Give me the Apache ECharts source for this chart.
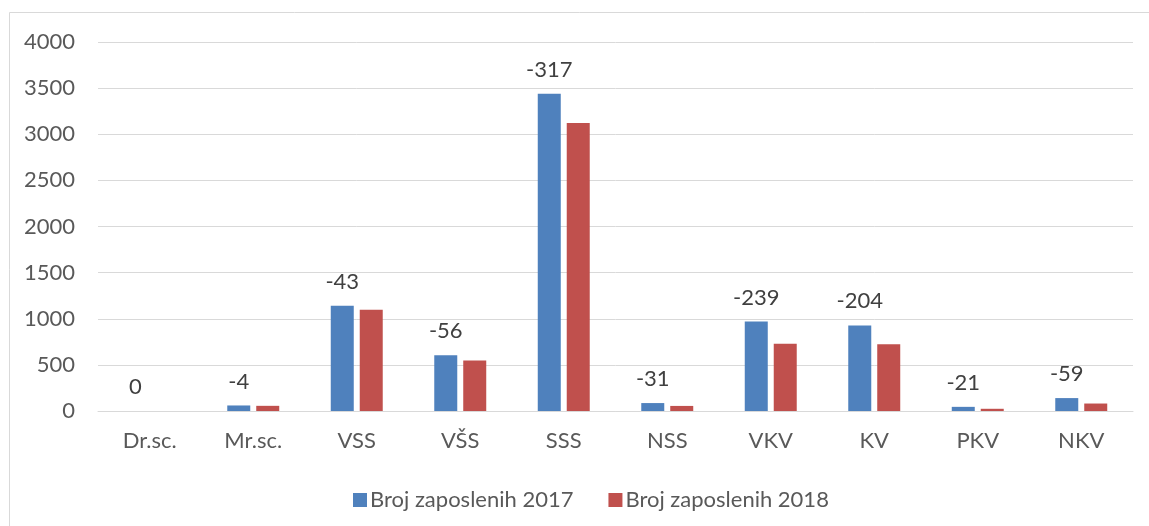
<!DOCTYPE html>
<html>
<head>
<meta charset="utf-8">
<script src="https://cdn.jsdelivr.net/npm/echarts@6/dist/echarts.min.js"></script>
<style>html,body{margin:0;padding:0;background:#fff}#c{width:1149px;height:526px}</style>
</head>
<body>
<div id="c"></div>
<script>
var categories = ['Dr.sc.', 'Mr.sc.', 'VSS', 'VŠS', 'SSS', 'NSS', 'VKV', 'KV', 'PKV', 'NKV'];
var values2017 = [0, 60, 1140, 603, 3440, 86, 969, 928, 45, 140];
var values2018 = [0, 56, 1097, 547, 3123, 55, 730, 724, 24, 81];
var differences = [0, -4, -43, -56, -317, -31, -239, -204, -21, -59];
var seriesNames = ['Broj zaposlenih 2017', 'Broj zaposlenih 2018'];

var FONT = 'Lato';
var FS = 22;
var chart = echarts.init(document.getElementById('c'), null, {renderer: 'canvas'});
chart.setOption({
  animation: false,
  backgroundColor: '#ffffff',
  textStyle: {fontFamily: FONT},
  graphic: [{
    type: 'rect',
    shape: {x: 9.5, y: 12.5, width: 1300, height: 700},
    style: {fill: 'none', stroke: '#d9d9d9', lineWidth: 1},
    silent: true
  }],
  grid: {left: 98, right: 16, top: 42, bottom: 115, containLabel: false},
  legend: {
    left: 348,
    top: 484,
    itemWidth: 14,
    itemHeight: 14,
    itemGap: 35,
    icon: 'rect',
    textStyle: {fontFamily: FONT, fontSize: FS, color: '#595959', padding: [0, 0, 0, -2]},
    data: seriesNames
  },
  xAxis: {
    type: 'category',
    data: categories,
    axisLine: {show: true, lineStyle: {color: '#d9d9d9', width: 1}},
    axisTick: {show: false},
    axisLabel: {fontFamily: FONT, fontSize: FS, color: '#595959', margin: 19}
  },
  yAxis: {
    type: 'value',
    min: 0,
    max: 4000,
    interval: 500,
    axisLine: {show: false},
    axisTick: {show: false},
    splitLine: {lineStyle: {color: '#d9d9d9', width: 1}},
    axisLabel: {fontFamily: FONT, fontSize: FS, color: '#595959', margin: 23, formatter: function (v) { return String(v); }}
  },
  series: [{
    name: seriesNames[0],
    type: 'bar',
    data: values2017,
    barWidth: 23,
    barGap: '26%',
    itemStyle: {color: '#4f81bd'},
    label: {
      show: true,
      position: 'top',
      distance: 13,
      fontFamily: FONT,
      fontSize: FS,
      color: '#404040',
      formatter: function (p) { return String(differences[p.dataIndex]); }
    }
  }, {
    name: seriesNames[1],
    type: 'bar',
    data: values2018,
    barWidth: 23,
    itemStyle: {color: '#c0504d'}
  }]
});
</script>
</body>
</html>
